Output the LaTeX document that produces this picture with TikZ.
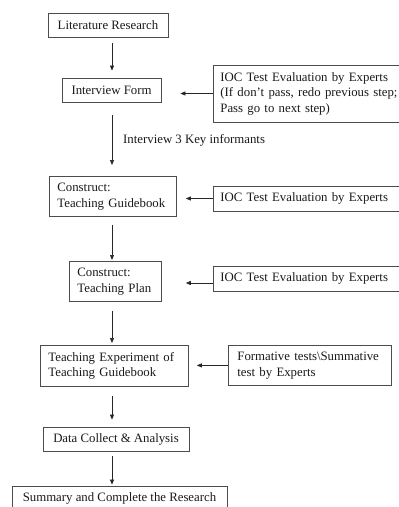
\documentclass[tikz,border=0pt]{standalone}
\usepackage{fontspec}
\setmainfont{Liberation Serif}
\usetikzlibrary{arrows.meta}
\begin{document}
\begin{tikzpicture}[x=1pt,y=-1pt,
  txt/.style={font=\fontsize{12.8}{15.5}\selectfont, text=black!90},
  box/.style={txt, draw=black!70, line width=0.8pt, inner sep=0pt},
  lbox/.style={box, align=left, inner xsep=8pt, text width=#1},
  arr/.style={-{Triangle[length=5pt,width=4pt]}, draw=black!85, line width=0.7pt},
]
\useasboundingbox (0,0) rectangle (399,507);
\clip (0,0) rectangle (399,507);

% main column
\node[box, minimum width=120pt, minimum height=24pt] (lit) at (108,25) {Literature Research};
\node[box, minimum width=99pt, minimum height=24pt] (form) at (111.5,90) {Interview Form};
\node[lbox=111pt, minimum height=40pt, anchor=north west] (guide) at (49,176) {Construct:\\Teaching Guidebook};
\node[lbox=76pt, minimum height=40pt, anchor=north west] (plan) at (69,261) {Construct:\\Teaching Plan};
\node[lbox=132pt, minimum height=41pt, anchor=north west] (exp) at (40,345) {Teaching Experiment of\\Teaching Guidebook};
\node[box, minimum width=146pt, minimum height=24pt] (data) at (116,439) {Data Collect \& Analysis};
\node[box, minimum width=215pt, minimum height=24pt] (sum) at (119.5,498) {Summary and Complete the Research};

% evaluation boxes on the right
\node[lbox=186pt, inner xsep=7pt, minimum height=57pt, anchor=west] (ioc1) at (213,93.5) {IOC Test Evaluation by Experts\\(If don’t pass, redo previous step;\\Pass go to next step)};
\node[lbox=186pt, inner xsep=7pt, minimum height=25pt, anchor=west] (ioc2) at (213,198.5) {IOC Test Evaluation by Experts};
\node[lbox=186pt, inner xsep=7pt, minimum height=25pt, anchor=west] (ioc3) at (213,278.5) {IOC Test Evaluation by Experts};
\node[lbox=145pt, inner xsep=9pt, minimum height=40pt, anchor=north west] (fmt) at (228,345) {Formative tests\textbackslash Summative\\test by Experts};

% vertical flow
\coordinate (spine) at (112,0);
\draw[arr, shorten <=6pt, shorten >=7pt] (lit.south -| spine) -- (form.north -| spine);
\draw[arr, shorten <=13pt, shorten >=11pt] (form.south -| spine) -- (guide.north -| spine);
\draw[arr, shorten <=8pt, shorten >=1pt] (guide.south -| spine) -- (plan.north -| spine);
\draw[arr, shorten <=9pt, shorten >=2pt] (plan.south -| spine) -- (exp.north -| spine);
\draw[arr, shorten <=9pt, shorten >=7pt] (exp.south -| spine) -- (data.north -| spine);
\draw[arr, shorten <=5pt, shorten >=1pt] (data.south -| spine) -- (sum.north -| spine);

\node[txt, anchor=west, inner sep=0pt] (lbl) at (123,140) {Interview 3 Key informants};

% feedback arrows
\draw[arr, shorten >=19pt] (ioc1.west) -- (ioc1.west -| form.east);
\draw[arr, shorten >=9pt] (ioc2.west) -- (ioc2.west -| guide.east);
\draw[arr, shorten >=24pt] ([yshift=-4.5pt]ioc3.west) -- ([yshift=-4.5pt]ioc3.west -| plan.east);
\draw[arr, shorten >=8pt] (fmt.west) -- (fmt.west -| exp.east);
\end{tikzpicture}
\end{document}
